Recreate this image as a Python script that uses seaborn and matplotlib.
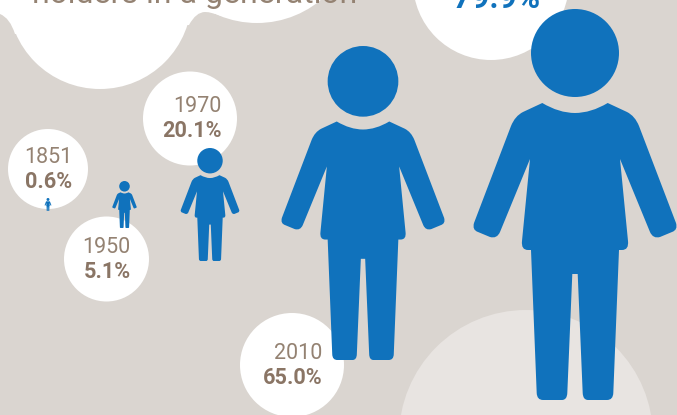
import pandas as pd
import seaborn as sns
import matplotlib.pyplot as plt
from matplotlib.path import Path
from matplotlib.patches import PathPatch, Circle

# values
years = ['1851', '1950', '1970', '2010']
shares = ['0.6%', '5.1%', '20.1%', '65.0%']
last_share = '79.9%'
title_tail = 'holders in a generation'

# layout, in pixels of the 677x415 canvas
person_x = [48, 124.5, 210, 363, 575]
person_top = [198, 181, 148, 46, 9]
person_height = [13, 47, 113, 314, 391]
bubble_x = [48, 106.5, 190, 292, 491, 100, 257]
bubble_y = [169, 259, 118.5, 365, -18, -2.7, -77]
bubble_r = [40, 42.5, 47, 52, 78, 91.7, 100]
label_x = [72, 130.7, 222, 322.7]
year_y = [163, 253, 112, 359]
share_y = [187.7, 278, 136.7, 384]

GREY = '#dad5d0'
PALE = '#e8e4e1'
BLUE = '#1072bc'
BROWN = '#8a7565'
BROWN_LIGHT = '#948272'

sns.set_theme(style='white', rc={'figure.facecolor': GREY, 'axes.facecolor': GREY})
plt.rcParams['font.family'] = ['Roboto', 'DejaVu Sans']

fig = plt.figure(figsize=(6.77, 4.15), dpi=100)
ax = fig.add_axes([0, 0, 1, 1])
ax.set_xlim(0, 677)
ax.set_ylim(415, 0)
ax.axis('off')

ax.add_patch(Circle((526, 437), 127, color=PALE, lw=0, zorder=1))

bubbles = pd.DataFrame({'x': bubble_x, 'y': bubble_y})
sizes = [(2 * r * 0.72) ** 2 for r in bubble_r]
sns.scatterplot(data=bubbles, x='x', y='y', s=sizes, color='white', linewidth=0,
                legend=False, ax=ax, zorder=2, clip_on=True)
ax.set_xlim(0, 677)
ax.set_ylim(415, 0)

# white paper behind the heading, with its rounded grey corners
M, L, C, Z = Path.MOVETO, Path.LINETO, Path.CURVE3, Path.CLOSEPOLY
top = [(-2, -5), (-2, 14), (0, 14), (10, 18), (15, 34), (100, 30), (189, 25), (196, 12),
       (205, 12), (212, 12), (221, 16), (300, 10), (300, -5), (-2, -5)]
top_codes = [M, L, L, C, C, L, L, C, C, C, C, L, L, Z]
ax.add_patch(PathPatch(Path(top, top_codes), color='white', lw=0, zorder=2))

# right half of the person icon, pixels at full size: x from the centre, y from the top
half = [(0, 104), (16, 104), (32.7, 94), (52, 103), (60, 107), (64, 117), (101, 214),
        (103, 221), (97, 223), (85, 228), (78, 230), (75, 223), (45, 150), (53, 232),
        (54, 241), (47, 241), (44, 241), (38.3, 384), (38, 391), (32, 391), (13, 391),
        (8, 391), (7.7, 384), (2.7, 265), (0, 265)]
half_codes = [M, C, C, L, C, C, L, C, C, L, C, C, L, L, C, C, L, L, C, C, L, C, C, L, L]


def person(cx, y0, height):
    k = height / 391
    ax.add_patch(Circle((cx, y0 + 44 * k), 44 * k, color=BLUE, lw=0, zorder=3))
    right = [(cx + x * k, y0 + y * k) for x, y in half]
    left = [(cx - x * k, y0 + y * k) for x, y in reversed(half[:-1])]
    # the mirrored side runs back up the same segments
    codes = half_codes + list(reversed(half_codes[1:])) + [Z]
    ax.add_patch(PathPatch(Path(right + left + [right[0]], codes), color=BLUE, lw=0, zorder=3))


for x, y, h in zip(person_x, person_top, person_height):
    person(x, y, h)

for x, yy, sy, year, share in zip(label_x, year_y, share_y, years, shares):
    ax.text(x, yy, year, ha='right', va='baseline', fontsize=15.5, color=BROWN_LIGHT,
            fontweight='normal', zorder=4)
    ax.text(x, sy, share, ha='right', va='baseline', fontsize=15.6, color=BROWN,
            fontweight='bold', zorder=4)

ax.text(357, 3, title_tail, ha='right', va='baseline', fontsize=23, color=BROWN_LIGHT,
        fontweight='normal', zorder=4)
ax.text(540, 8, last_share, ha='right', va='baseline', fontsize=22.8, color=BLUE,
        fontweight='bold', zorder=4)

fig.savefig('out.png', dpi=100, facecolor=GREY)
